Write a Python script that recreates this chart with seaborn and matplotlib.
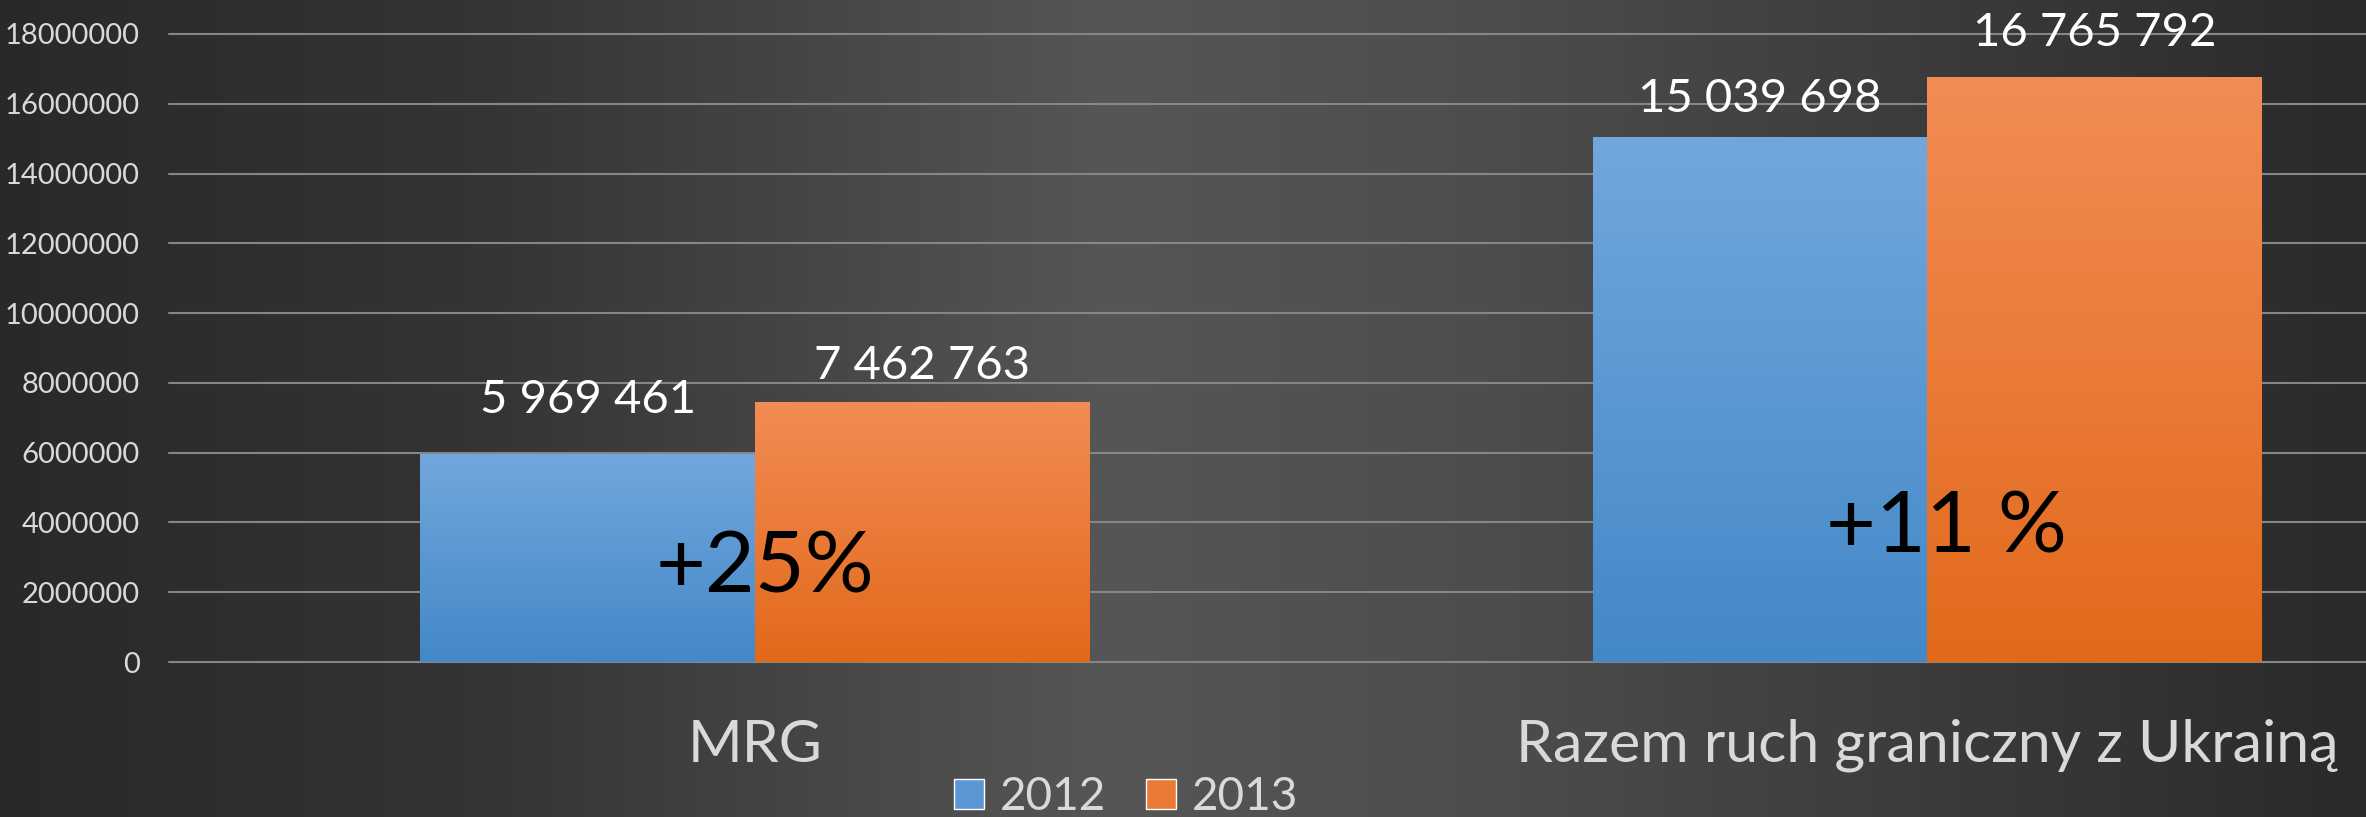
import numpy as np
import pandas as pd
import seaborn as sns
import matplotlib.pyplot as plt
from matplotlib.colors import LinearSegmentedColormap
from matplotlib.patches import Patch
from matplotlib.ticker import StrMethodFormatter

# Values
categories = ["MRG", "Razem ruch graniczny z Ukrainą"]
years = ["2012", "2013"]
values_2012 = [5969461, 15039698]
values_2013 = [7462763, 16765792]
growth_labels = ["+25%", "+11 %"]
growth_label_y = [2000000, 3150000]
y_ticks = [0, 2000000, 4000000, 6000000, 8000000, 10000000,
           12000000, 14000000, 16000000, 18000000]

# per-label gap above the bar (points), labels were moved by hand in the original
label_pad = {"2012": [29, 18], "2013": [16, 22]}
# small sideways nudge of the growth labels (points)
growth_nudge = [7, 14]

# colours: (bottom, top) of each bar gradient
bar_grad = {"2012": ("#4388c8", "#72a7dd"), "2013": ("#e2691a", "#f28c55")}

sns.set_style("white")
plt.rcParams['font.family'] = ['Lato', 'DejaVu Sans']

# long-form table for seaborn
df = pd.DataFrame({
    'kategoria': categories * 2,
    'rok': [years[0]] * len(categories) + [years[1]] * len(categories),
    'wartosc': values_2012 + values_2013,
})

fig = plt.figure(figsize=(23.66, 8.17), dpi=100)

# dark grey background, lighter in the middle
bg = fig.add_axes([0, 0, 1, 1], zorder=0)
bg_cmap = LinearSegmentedColormap.from_list(
    'bg', [(0, '#292929'), (0.2, '#343434'), (0.47, '#565656'),
           (0.63, '#4d4d4d'), (1, '#2a2a2a')])
bg.imshow(np.linspace(0, 1, 512)[None, :], aspect='auto', cmap=bg_cmap,
          extent=[0, 1, 0, 1])
bg.axis('off')

ax = fig.add_axes([0.0714, 0.1897, 0.991, 0.7687], zorder=1)
ax.set_facecolor('none')

sns.barplot(data=df, x='kategoria', y='wartosc', hue='rok', hue_order=years,
            width=0.571, palette=[bar_grad[y][0] for y in years],
            linewidth=0, legend=False, ax=ax, zorder=3)

# vertical gradient on each bar + value labels
for year, container in zip(years, ax.containers):
    cmap = LinearSegmentedColormap.from_list('g' + year, list(bar_grad[year]))
    for j, patch in enumerate(container.patches):
        x0 = patch.get_x()
        w = patch.get_width()
        h = patch.get_height()
        im = ax.imshow(np.linspace(1, 0, 256)[:, None], aspect='auto', cmap=cmap,
                       extent=[x0, x0 + w, 0, h], zorder=4)
        im.set_clip_path(patch)
        label = f"{int(round(h)):,}".replace(",", " ")
        ax.annotate(label, (x0 + w / 2, h), xytext=(0, label_pad[year][j]),
                    textcoords='offset points', ha='center', va='baseline',
                    fontsize=34, color='white', zorder=6)

ax.set_ylim(0, 18000000)
ax.set_xlim(-0.5, 1.5)

# growth percentages in black over the bar pairs
for i, txt in enumerate(growth_labels):
    ax.annotate(txt, (i, growth_label_y[i]), xytext=(growth_nudge[i], 0),
                textcoords='offset points', ha='center', va='baseline',
                fontsize=62, color='black', zorder=7)

# axes styling
ax.set_yticks(y_ticks)
ax.yaxis.set_major_formatter(StrMethodFormatter('{x:.0f}'))
ax.yaxis.grid(True, color='#868686', linewidth=1.5)
ax.xaxis.grid(False)
ax.set_axisbelow(True)
for line in ax.get_ygridlines():
    line.set_clip_on(False)
sns.despine(ax=ax, left=True, bottom=True)
ax.tick_params(axis='y', length=0, pad=21, labelsize=21, labelcolor='#d9d9d9')
ax.tick_params(axis='x', length=0, pad=41, labelsize=42.5, labelcolor='#d9d9d9')
ax.set_xlabel('')
ax.set_ylabel('')

# legend at the bottom
handles = [Patch(facecolor='#5b97d4'), Patch(facecolor='#ec7a37')]
fig.legend(handles, years, loc='center left',
           bbox_to_anchor=(954 / 2366, 1 - 797 / 817),
           frameon=False, fontsize=33, ncol=2,
           handlelength=0.65, handleheight=0.65, handletextpad=0.35,
           columnspacing=0.87, borderpad=0, borderaxespad=0,
           labelcolor='#d9d9d9')

fig.savefig('out.png', dpi=100)
